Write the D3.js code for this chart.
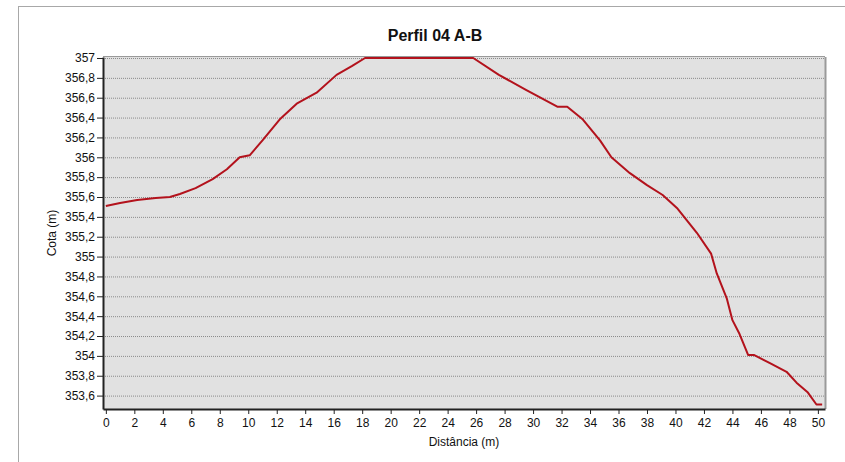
<!DOCTYPE html>
<meta charset="utf-8">
<style>
  body { margin: 0; background: #fff; }
  text { font-family: "Liberation Sans", Arial, sans-serif; fill: #111; }
  .grid line { stroke: #8a8a8a; stroke-dasharray: 1, 1; stroke-width: 1px; }
  .grid .domain { display: none; }
  .axis path, .axis line { stroke: #222; }
  .axis text { font-size: 12px; }
  .line { fill: none; stroke: #b3121c; stroke-width: 2px; stroke-linejoin: round; }
</style>
<body>
<script src="https://d3js.org/d3.v7.min.js"></script>
<script>
  // profile data
  var distancia = [0, 1, 2.2, 3.5, 4.5, 5.2, 6.3, 7.5, 8.5, 9.4, 10.1, 11.0, 12.2, 13.4, 14.8, 16.2, 17.3, 18.2,
    25.8, 27.6, 29.5, 31.7, 32.4, 33.5, 34.7, 35.5, 36.8, 38.0, 39.1, 40.1, 41.5, 42.5, 42.9, 43.6, 44.0,
    44.5, 45.1, 45.5, 46.6, 47.8, 48.5, 49.3, 49.9, 50.3];
  var cota = [355.51, 355.54, 355.57, 355.59, 355.6, 355.63, 355.69, 355.78, 355.88, 356.0, 356.02, 356.17, 356.38,
    356.54, 356.65, 356.83, 356.92, 357, 357, 356.83, 356.68, 356.51, 356.51, 356.38, 356.17, 356.0, 355.84,
    355.72, 355.62, 355.49, 355.24, 355.03, 354.83, 354.58, 354.36, 354.22, 354.01, 354.01, 353.93, 353.84,
    353.73, 353.63, 353.51, 353.51];
  var yTicks = [353.6, 353.8, 354, 354.2, 354.4, 354.6, 354.8, 355, 355.2, 355.4, 355.6, 355.8, 356, 356.2,
    356.4, 356.6, 356.8, 357];
  var xTicks = [0, 2, 4, 6, 8, 10, 12, 14, 16, 18, 20, 22, 24, 26, 28, 30, 32, 34, 36, 38, 40, 42, 44, 46, 48, 50];

  var margin = { top: 57, right: 20, bottom: 53, left: 103 },
    width = 825 - margin.left,
    height = 409 - margin.top;

  var svg = d3.select("body").append("svg")
    .attr("width", 845)
    .attr("height", 462);

  // outer frame (only top and left edges visible)
  svg.append("rect")
    .attr("x", 18.5).attr("y", 6.5)
    .attr("width", 900).attr("height", 500)
    .style("fill", "none").style("stroke", "#a8a8a8");

  svg.append("text")
    .attr("x", 435).attr("y", 41)
    .attr("text-anchor", "middle")
    .style("font-size", "16px").style("font-weight", "bold")
    .text("Perfil 04 A-B");

  var g = svg.append("g")
    .attr("transform", "translate(" + margin.left + "," + margin.top + ")");

  var x = d3.scaleLinear().domain([-0.2, 50.5]).range([0, width]);
  var y = d3.scaleLinear().domain([353.465, 357.01]).range([height, 0]);

  var fmt = function(d) { return String(+d.toFixed(1)).replace(".", ","); };

  // plot background
  g.append("rect")
    .attr("width", width).attr("height", height)
    .style("fill", "#e1e1e1");

  // top & right border
  g.append("line").attr("x1", 0).attr("x2", width).attr("y1", -0.5).attr("y2", -0.5)
    .style("stroke", "#9a9a9a");
  g.append("line").attr("x1", width + 0.5).attr("x2", width + 0.5).attr("y1", 0).attr("y2", height)
    .style("stroke", "#9a9a9a").style("stroke-width", 2);

  // gridlines
  g.append("g")
    .attr("class", "grid")
    .call(d3.axisLeft(y).tickValues(yTicks).tickSize(-width).tickFormat(""));

  var line = d3.line()
    .x(function(d, i) { return x(distancia[i]); })
    .y(function(d) { return y(d); });

  g.append("path")
    .datum(cota)
    .attr("class", "line")
    .attr("d", line);

  g.append("g")
    .attr("class", "axis")
    .call(d3.axisLeft(y).tickValues(yTicks).tickSize(6).tickSizeOuter(0).tickPadding(2).tickFormat(fmt));

  g.append("g")
    .attr("class", "axis")
    .attr("transform", "translate(0," + height + ")")
    .call(d3.axisBottom(x).tickValues(xTicks).tickSize(5).tickSizeOuter(0).tickPadding(4).tickFormat(fmt));

  g.selectAll(".axis .domain").style("stroke-width", 2);

  svg.append("text")
    .attr("transform", "translate(56," + (margin.top + height / 2) + ") rotate(-90)")
    .attr("text-anchor", "middle")
    .style("font-size", "12px")
    .text("Cota (m)");

  svg.append("text")
    .attr("x", margin.left + width / 2).attr("y", 446)
    .attr("text-anchor", "middle")
    .style("font-size", "12px")
    .text("Distância (m)");
</script>
</body>
